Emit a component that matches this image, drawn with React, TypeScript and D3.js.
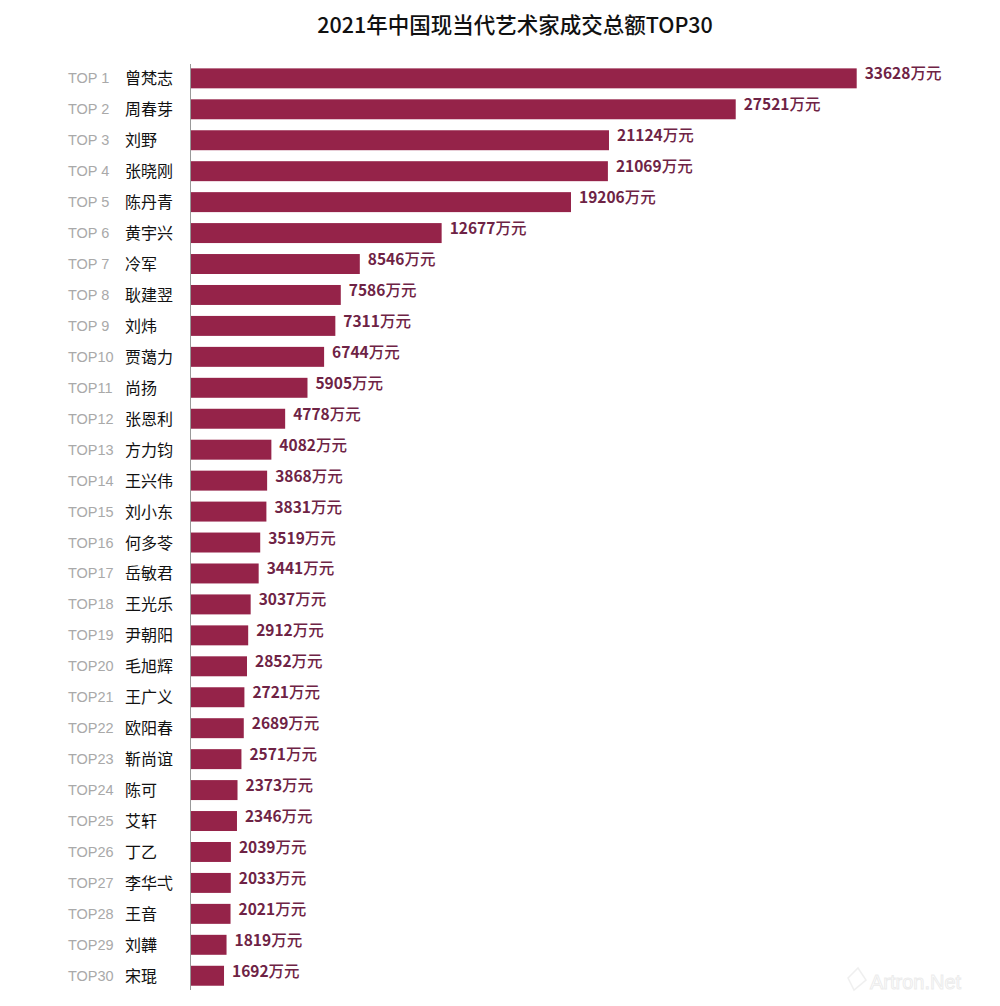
import React from "react";
import * as d3 from "d3";

const ranks = ["TOP 1","TOP 2","TOP 3","TOP 4","TOP 5","TOP 6","TOP 7","TOP 8","TOP 9","TOP10","TOP11","TOP12","TOP13","TOP14","TOP15","TOP16","TOP17","TOP18","TOP19","TOP20","TOP21","TOP22","TOP23","TOP24","TOP25","TOP26","TOP27","TOP28","TOP29","TOP30"];
const names = ["曾梵志","周春芽","刘野","张晓刚","陈丹青","黄宇兴","冷军","耿建翌","刘炜","贾蔼力","尚扬","张恩利","方力钧","王兴伟","刘小东","何多苓","岳敏君","王光乐","尹朝阳","毛旭辉","王广义","欧阳春","靳尚谊","陈可","艾轩","丁乙","李华弌","王音","刘韡","宋琨"];
const values = [33628,27521,21124,21069,19206,12677,8546,7586,7311,6744,5905,4778,4082,3868,3831,3519,3441,3037,2912,2852,2721,2689,2571,2373,2346,2039,2033,2021,1819,1692];
const unit = "万元";
const title = "2021年中国现当代艺术家成交总额TOP30";

export default function App() {
  const W = 1000, H = 1006;
  const x = d3.scaleLinear().domain([0, 33628]).range([190.5, 856.7]);
  const y = d3.scaleBand<string>().domain(ranks).range([62.8, 991.3]).paddingInner(0.355).paddingOuter(0.18);
  const bw = y.bandwidth();
  const font = "'Noto Sans CJK SC', 'Noto Sans', sans-serif";
  return (
    <svg width={W} height={H} style={{ position: "absolute", left: 0, top: 0, background: "#fff" }}>
      <text x={515} y={33} textAnchor="middle" fontFamily={font} fontSize={21.5} fontWeight={500} fill="#111">{title}</text>
      {values.map((v, i) => {
        const r = ranks[i];
        const yc = (y(r) as number) + bw / 2;
        return (
          <g key={r}>
            <rect x={x(0)} y={y(r)} width={x(v) - x(0)} height={bw} fill="#952349" />
            <text x={68} y={yc + 5} fontFamily="'Liberation Sans', Arial, sans-serif" fontSize={14.5} fill="#a9a9a9">{r}</text>
            <text x={125} y={yc + 6} fontFamily={font} fontSize={16} fill="#111">{names[i]}</text>
            <text x={x(v) + 8} y={yc + 1} fontFamily={font} fontSize={15.5} fill="#6e2345">
              <tspan fontWeight={700}>{v}</tspan><tspan fontWeight={500}>{unit}</tspan>
            </text>
          </g>
        );
      })}
      <line x1={190.5} x2={190.5} y1={64} y2={990} stroke="#999" strokeWidth={1} />
      <g opacity={0.22}>
        <path d="M848,978 L858,968 L866,980 L854,990 Z" fill="none" stroke="#bbb" strokeWidth={1.5} />
        <text x={870} y={989} fontFamily="'Liberation Sans', Arial, sans-serif" fontSize={20} fill="none" stroke="#aaa" strokeWidth={1}>Artron.Net</text>
      </g>
    </svg>
  );
}
